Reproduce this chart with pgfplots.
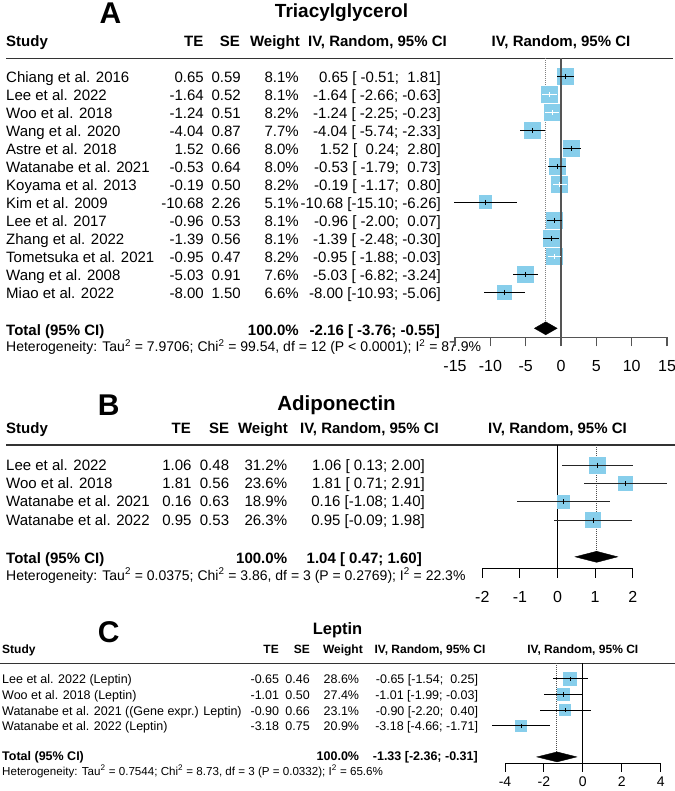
\documentclass[border=0pt]{standalone}
\usepackage{fontspec}
\setmainfont{Liberation Sans}
\usepackage{pgfplots}
\pgfplotsset{compat=1.18}
\usepackage{pgfplotstable}
\definecolor{sq}{RGB}{135,206,235}
\definecolor{zg}{RGB}{85,85,85}
\newcommand{\fs}[1]{\fontsize{#1bp}{#1bp}\selectfont}

% y = row index, est, lower, upper, weight, in (CI inside the square)
\pgfplotstableread{
y est lo hi w in
1 0.65 -0.51 1.81 8.1 0
2 -1.64 -2.66 -0.63 8.1 1
3 -1.24 -2.25 -0.23 8.2 1
4 -4.04 -5.74 -2.33 7.7 0
5 1.52 0.24 2.80 8.0 0
6 -0.53 -1.79 0.73 8.0 0
7 -0.19 -1.17 0.80 8.2 1
8 -10.68 -15.10 -6.26 5.1 0
9 -0.96 -2.00 0.07 8.1 0
10 -1.39 -2.48 -0.30 8.1 0
11 -0.95 -1.88 -0.03 8.2 1
12 -5.03 -6.82 -3.24 7.6 0
13 -8.00 -10.93 -5.06 6.6 0
}\tabA
\pgfplotstableread{
y est lo hi w
1 1.06 0.13 2.00 31.2
2 1.81 0.71 2.91 23.6
3 0.16 -1.08 1.40 18.9
4 0.95 -0.09 1.98 26.3
}\tabB
\pgfplotstableread{
y est lo hi w
1 -0.65 -1.54 0.25 28.6
2 -1.01 -1.99 -0.03 27.4
3 -0.90 -2.20 0.40 23.1
4 -3.18 -4.66 -1.71 20.9
}\tabC

\pgfplotsset{
  forest/.style={enlargelimits=false, clip=false, clip marker paths=true,
    axis x line*=bottom, axis y line=none, ytick=\empty,
    xtick align=outside,
    /pgf/number format/assume math mode=true},
  sqplot/.style={scatter, only marks, mark=square*, draw=none,
    mark options={draw=sq, fill=sq, line width=0pt},
    scatter/use mapped color={draw=sq, fill=sq}},
}

\newcommand{\rowA}[6]{%
  \node[anchor=base west] at (6,#1) {#2};
  \node[anchor=base east] at (204,#1) {#3};
  \node[anchor=base east] at (241,#1) {#4};
  \node[anchor=base east] at (299,#1) {#5};
  \node[anchor=base east] at (441,#1) {#6};}
\newcommand{\rowB}[6]{%
  \node[anchor=base west] at (6,#1) {#2};
  \node[anchor=base east] at (191.7,#1) {#3};
  \node[anchor=base east] at (229.3,#1) {#4};
  \node[anchor=base east] at (287.3,#1) {#5};
  \node[anchor=base east] at (425,#1) {#6};}
\newcommand{\rowC}[6]{%
  \node[anchor=base west] at (2,#1) {#2};
  \node[anchor=base east] at (279.3,#1) {#3};
  \node[anchor=base east] at (310,#1) {#4};
  \node[anchor=base east] at (359.3,#1) {#5};
  \node[anchor=base east] at (478.3,#1) {#6};}

\begin{document}
\begin{tikzpicture}
\begin{scope}[x=1bp,y=-1bp,every node/.style={inner sep=0pt}]

% ---------------- Panel A text ----------------
\node[anchor=base, font=\fs{30}\bfseries] at (110.5,23.5) {A};
\node[anchor=base, font=\fs{19}\bfseries] at (341.5,17.5) {Triacylglycerol};
\begin{scope}[every node/.append style={font=\fs{15}\bfseries}]
\node[anchor=base west] at (6,46.7) {Study};
\node[anchor=base east] at (203.5,46.7) {TE};
\node[anchor=base east] at (240,46.7) {SE};
\node[anchor=base east] at (300,46.7) {Weight};
\node[anchor=base east] at (447,46.7) {IV, Random, 95\% CI};
\node[anchor=base] at (561,46.7) {IV, Random, 95\% CI};
\end{scope}
\draw[line width=1.3bp, black!80] (6,58.3) -- (673,58.3);
\begin{scope}[every node/.append style={font=\fs{15}}]
\rowA{82.5}{Chiang et al. 2016}{0.65}{0.59}{8.1\%}{0.65 [ -0.51;\ \ 1.81]}
\rowA{100.5}{Lee et al. 2022}{-1.64}{0.52}{8.1\%}{-1.64 [ -2.66; -0.63]}
\rowA{118.5}{Woo et al. 2018}{-1.24}{0.51}{8.2\%}{-1.24 [ -2.25; -0.23]}
\rowA{136.5}{Wang et al. 2020}{-4.04}{0.87}{7.7\%}{-4.04 [ -5.74; -2.33]}
\rowA{154.5}{Astre et al. 2018}{1.52}{0.66}{8.0\%}{1.52 [\ \ 0.24;\ \ 2.80]}
\rowA{172.5}{Watanabe et al. 2021}{-0.53}{0.64}{8.0\%}{-0.53 [ -1.79;\ \ 0.73]}
\rowA{190.5}{Koyama et al. 2013}{-0.19}{0.50}{8.2\%}{-0.19 [ -1.17;\ \ 0.80]}
\rowA{208.5}{Kim et al. 2009}{-10.68}{2.26}{5.1\%}{-10.68 [-15.10; -6.26]}
\rowA{226.5}{Lee et al. 2017}{-0.96}{0.53}{8.1\%}{-0.96 [ -2.00;\ \ 0.07]}
\rowA{244.5}{Zhang et al. 2022}{-1.39}{0.56}{8.1\%}{-1.39 [ -2.48; -0.30]}
\rowA{262.5}{Tometsuka et al. 2021}{-0.95}{0.47}{8.2\%}{-0.95 [ -1.88; -0.03]}
\rowA{280.5}{Wang et al. 2008}{-5.03}{0.91}{7.6\%}{-5.03 [ -6.82; -3.24]}
\rowA{298.5}{Miao et al. 2022}{-8.00}{1.50}{6.6\%}{-8.00 [-10.93; -5.06]}
\end{scope}
\begin{scope}[every node/.append style={font=\fs{15}\bfseries}]
\node[anchor=base west] at (6,335.7) {Total (95\% CI)};
\node[anchor=base east] at (299,335.7) {100.0\%};
\node[anchor=base east] at (440,335.7) {-2.16 [ -3.76; -0.55]};
\end{scope}
\node[anchor=base west, font=\fs{14}] at (6,351.7) {Heterogeneity: Tau\textsuperscript{2} = 7.9706; Chi\textsuperscript{2} = 99.54, df = 12 (P < 0.0001); I\textsuperscript{2} = 87.9\%};

% ---------------- Panel B text ----------------
\node[anchor=base, font=\fs{30}\bfseries] at (108.8,415) {B};
\node[anchor=base, font=\fs{20.5}\bfseries] at (336.5,410) {Adiponectin};
\begin{scope}[every node/.append style={font=\fs{15}\bfseries}]
\node[anchor=base west] at (6,433.3) {Study};
\node[anchor=base east] at (191,433.3) {TE};
\node[anchor=base east] at (229.3,433.3) {SE};
\node[anchor=base east] at (288,433.3) {Weight};
\node[anchor=base east] at (439,433.3) {IV, Random, 95\% CI};
\node[anchor=base] at (557.5,433.3) {IV, Random, 95\% CI};
\end{scope}
\draw[line width=1.3bp, black!80] (6,445) -- (675,445);
\begin{scope}[every node/.append style={font=\fs{15}}]
\rowB{470}{Lee et al. 2022}{1.06}{0.48}{31.2\%}{1.06 [ 0.13; 2.00]}
\rowB{488.3}{Woo et al. 2018}{1.81}{0.56}{23.6\%}{1.81 [ 0.71; 2.91]}
\rowB{506.7}{Watanabe et al. 2021}{0.16}{0.63}{18.9\%}{0.16 [-1.08; 1.40]}
\rowB{525}{Watanabe et al. 2022}{0.95}{0.53}{26.3\%}{0.95 [-0.09; 1.98]}
\end{scope}
\begin{scope}[every node/.append style={font=\fs{15}\bfseries}]
\node[anchor=base west] at (6,563.3) {Total (95\% CI)};
\node[anchor=base east] at (287.3,563.3) {100.0\%};
\node[anchor=base east] at (422,563.3) {1.04 [ 0.47; 1.60]};
\end{scope}
\node[anchor=base west, font=\fs{14}] at (6,580) {Heterogeneity: Tau\textsuperscript{2} = 0.0375; Chi\textsuperscript{2} = 3.86, df = 3 (P = 0.2769); I\textsuperscript{2} = 22.3\%};

% ---------------- Panel C text ----------------
\node[anchor=base, font=\fs{30}\bfseries] at (108.7,642) {C};
\node[anchor=base, font=\fs{16.5}\bfseries] at (337.5,634) {Leptin};
\begin{scope}[every node/.append style={font=\fs{12}\bfseries}]
\node[anchor=base west] at (2,653.3) {Study};
\node[anchor=base east] at (279,653.3) {TE};
\node[anchor=base east] at (310,653.3) {SE};
\node[anchor=base east] at (363,653.3) {Weight};
\node[anchor=base east] at (485.7,653.3) {IV, Random, 95\% CI};
\node[anchor=base] at (582.8,653.3) {IV, Random, 95\% CI};
\end{scope}
\draw[line width=1.2bp, black!80] (0,663.3) -- (675,663.3);
\begin{scope}[every node/.append style={font=\fs{12.5}}]
\rowC{683.3}{Lee et al. 2022 (Leptin)}{-0.65}{0.46}{28.6\%}{-0.65 [-1.54;\ \ 0.25]}
\rowC{699.3}{Woo et al. 2018 (Leptin)}{-1.01}{0.50}{27.4\%}{-1.01 [-1.99; -0.03]}
\rowC{715}{Watanabe et al. 2021 ((Gene expr.) Leptin)}{-0.90}{0.66}{23.1\%}{-0.90 [-2.20;\ \ 0.40]}
\rowC{730.5}{Watanabe et al. 2022 (Leptin)}{-3.18}{0.75}{20.9\%}{-3.18 [-4.66; -1.71]}
\end{scope}
\begin{scope}[every node/.append style={font=\fs{12.5}\bfseries}]
\node[anchor=base west] at (2,760) {Total (95\% CI)};
\node[anchor=base east] at (359.3,760) {100.0\%};
\node[anchor=base east] at (478,760) {-1.33 [-2.36; -0.31]};
\end{scope}
\node[anchor=base west, font=\fs{11.6}] at (2,775) {Heterogeneity: Tau\textsuperscript{2} = 0.7544; Chi\textsuperscript{2} = 8.73, df = 3 (P = 0.0332); I\textsuperscript{2} = 65.6\%};
\end{scope}

% ---------------- Panel A plot ----------------
\begin{axis}[forest, at={(455bp,-58.3bp)}, anchor=north west,
  x=7.0667bp, y=18bp, xmin=-15, xmax=15, ymin=-15.5, ymax=0,
  xtick={-15,-10,-5,0,5,10,15}, xticklabels={-15,-10,-5,0,5,10,15},
  major tick length=9bp,
  x axis line style={zg, line width=1.3bp}, xtick style={zg, line width=1.3bp},
  xticklabel style={font=\fs{16}, anchor=base, yshift=-25bp}]
\addplot[gray, densely dotted, line width=1bp] coordinates {(-2.16,0) (-2.16,-14.64)};
\addplot[sqplot,
  visualization depends on={2.811*sqrt(\thisrow{w}) \as \ms},
  scatter/@pre marker code/.append style={/tikz/mark size=\ms}]
  table[x=est, y expr=-\thisrow{y}] {\tabA};
\addplot[zg, line width=1.8bp] coordinates {(0,0) (0,-15.5)};
\addplot[only marks, mark=|, mark size=2.5bp, mark options={black, line width=1.2bp},
  restrict expr to domain={\thisrow{in}}{0:0},
  error bars/.cd, x dir=both, x explicit, error mark=none,
  error bar style={black, line width=1.3bp}]
  table[x=est, y expr=-\thisrow{y}, x error plus expr=\thisrow{hi}-\thisrow{est},
        x error minus expr=\thisrow{est}-\thisrow{lo}] {\tabA};
\addplot[only marks, mark=|, mark size=2.5bp, mark options={white, line width=1.2bp},
  restrict expr to domain={\thisrow{in}}{1:1},
  error bars/.cd, x dir=both, x explicit, error mark=none,
  error bar style={white, line width=1.3bp}]
  table[x=est, y expr=-\thisrow{y}, x error plus expr=\thisrow{hi}-\thisrow{est},
        x error minus expr=\thisrow{est}-\thisrow{lo}] {\tabA};
\addplot[fill=black, draw=black] coordinates {(-3.76,-15) (-2.16,-14.64) (-0.55,-15) (-2.16,-15.36)} -- cycle;
\end{axis}

% ---------------- Panel B plot ----------------
\begin{axis}[forest, at={(482.3bp,-445bp)}, anchor=north west,
  x=37.6bp, y=18.33bp, xmin=-2, xmax=2, ymin=-6.64, ymax=0.1,
  xtick={-2,-1,0,1,2}, xticklabels={-2,-1,0,1,2},
  major tick length=9bp,
  x axis line style={black, line width=1.1bp}, xtick style={black, line width=1.1bp},
  xticklabel style={font=\fs{16}, anchor=base, yshift=-25bp}]
\addplot[gray!60!black, densely dotted, line width=1bp] coordinates {(1.04,0.1) (1.04,-5.7)};
\addplot[black, line width=1bp] coordinates {(0,0.1) (0,-6.64)};
\addplot[sqplot,
  visualization depends on={1.432*sqrt(\thisrow{w}) \as \ms},
  scatter/@pre marker code/.append style={/tikz/mark size=\ms}]
  table[x=est, y expr=-\thisrow{y}] {\tabB};
\addplot[only marks, mark=|, mark size=2.5bp, mark options={black, line width=1bp},
  error bars/.cd, x dir=both, x explicit, error mark=none,
  error bar style={black!85, line width=1.1bp}]
  table[x=est, y expr=-\thisrow{y}, x error plus expr=\thisrow{hi}-\thisrow{est},
        x error minus expr=\thisrow{est}-\thisrow{lo}] {\tabB};
\addplot[fill=black, draw=black] coordinates {(0.47,-6) (1.04,-5.7) (1.60,-6) (1.04,-6.3)} -- cycle;
\end{axis}

% ---------------- Panel C plot ----------------
\begin{axis}[forest, at={(505bp,-663.3bp)}, anchor=north west,
  x=19.46bp, y=15.6bp, xmin=-4, xmax=4, ymin=-6.41, ymax=0,
  xtick={-4,-2,0,2,4}, xticklabels={-4,-2,0,2,4},
  major tick length=8.4bp,
  x axis line style={black, line width=1bp}, xtick style={black, line width=1bp},
  xticklabel style={font=\fs{14}, anchor=base, yshift=-15bp}]
\addplot[gray!60!black, densely dotted, line width=1bp] coordinates {(-1.33,0) (-1.33,-5.68)};
\addplot[black, line width=1bp] coordinates {(0,0) (0,-6.41)};
\addplot[sqplot,
  visualization depends on={1.18*sqrt(\thisrow{w}) \as \ms},
  scatter/@pre marker code/.append style={/tikz/mark size=\ms}]
  table[x=est, y expr=-\thisrow{y}] {\tabC};
\addplot[only marks, mark=|, mark size=2.2bp, mark options={black, line width=0.9bp},
  error bars/.cd, x dir=both, x explicit, error mark=none,
  error bar style={black, line width=1bp}]
  table[x=est, y expr=-\thisrow{y}, x error plus expr=\thisrow{hi}-\thisrow{est},
        x error minus expr=\thisrow{est}-\thisrow{lo}] {\tabC};
\addplot[fill=black, draw=black] coordinates {(-2.36,-6) (-1.33,-5.68) (-0.31,-6) (-1.33,-6.32)} -- cycle;
\end{axis}

\pgfresetboundingbox
\useasboundingbox (0bp,0bp) rectangle (675bp,-791bp);
\end{tikzpicture}
\end{document}
